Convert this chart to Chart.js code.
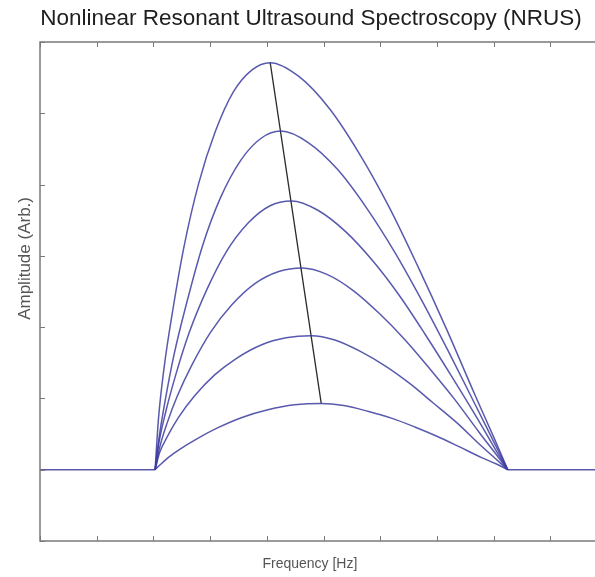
<!DOCTYPE html>
<html>
<head>
<meta charset="utf-8">
<script src="https://cdn.jsdelivr.net/npm/chart.js@4.4.0/dist/chart.umd.min.js"></script>
<style>
html, body { margin: 0; padding: 0; background: #fff; overflow: hidden; }
#wrap { width: 612px; height: 577px; }
</style>
</head>
<body>
<div id="wrap"><canvas id="nrusChart" width="612" height="577"></canvas></div>
<script>
// axis tick positions (no labels in the figure)
var xTicks = [0, 1, 2, 3, 4, 5, 6, 7, 8, 9, 10];
var yTicks = [-1, 0, 1, 2, 3, 4, 5, 6];

// resonance curves, highest drive first (frequency / amplitude, arb. units)
var freq1 = [2.03, 2.09, 2.19, 2.34, 2.54, 2.80, 3.09, 3.41, 3.74, 4.06, 4.56, 5.11, 5.65, 6.16, 6.66, 7.16, 7.66, 8.00, 8.25];
var amp1  = [0, 0.72, 1.44, 2.23, 3.13, 4.02, 4.74, 5.30, 5.61, 5.71, 5.52, 5.06, 4.41, 3.68, 2.86, 1.99, 1.07, 0.46, 0];

var freq2 = [2.03, 2.10, 2.21, 2.36, 2.59, 2.87, 3.18, 3.54, 3.90, 4.25, 4.73, 5.25, 5.77, 6.25, 6.73, 7.21, 7.69, 8.01, 8.25];
var amp2  = [0, 0.45, 0.98, 1.60, 2.35, 3.15, 3.81, 4.34, 4.65, 4.75, 4.59, 4.21, 3.66, 3.06, 2.38, 1.65, 0.89, 0.38, 0];

var freq3 = [2.03, 2.10, 2.22, 2.39, 2.63, 2.95, 3.28, 3.67, 4.05, 4.44, 4.90, 5.39, 5.89, 6.35, 6.80, 7.26, 7.72, 8.02, 8.25];
var amp3  = [0, 0.39, 0.82, 1.32, 1.92, 2.54, 3.05, 3.46, 3.70, 3.77, 3.64, 3.34, 2.91, 2.43, 1.89, 1.31, 0.71, 0.30, 0];

var freq4 = [2.03, 2.11, 2.24, 2.42, 2.68, 3.01, 3.38, 3.79, 4.21, 4.62, 5.06, 5.53, 6.00, 6.44, 6.87, 7.31, 7.74, 8.03, 8.25];
var amp4  = [0, 0.31, 0.65, 1.03, 1.47, 1.93, 2.31, 2.61, 2.78, 2.83, 2.74, 2.51, 2.18, 1.82, 1.42, 0.99, 0.53, 0.23, 0];

var freq5 = [2.03, 2.11, 2.25, 2.44, 2.72, 3.08, 3.46, 3.90, 4.34, 4.78, 5.20, 5.65, 6.10, 6.52, 6.93, 7.35, 7.76, 8.04, 8.25];
var amp5  = [0, 0.24, 0.47, 0.73, 1.03, 1.33, 1.56, 1.75, 1.85, 1.88, 1.82, 1.66, 1.45, 1.21, 0.94, 0.66, 0.35, 0.15, 0];

var freq6 = [2.03, 2.12, 2.26, 2.47, 2.76, 3.14, 3.55, 4.02, 4.49, 4.96, 5.36, 5.78, 6.21, 6.61, 7.00, 7.40, 7.79, 8.05, 8.25];
var amp6  = [0, 0.07, 0.17, 0.29, 0.43, 0.59, 0.73, 0.84, 0.91, 0.93, 0.90, 0.82, 0.72, 0.60, 0.47, 0.32, 0.17, 0.08, 0];

// line through the peaks
var peakFreq = [4.06, 4.96];
var peakAmp  = [5.71, 0.93];

// flat response outside the band
var baseFreq = [0, 2.03, null, 8.25, 10];
var baseAmp  = [0, 0, null, 0, 0];

function pts(xs, ys) {
  var out = [];
  for (var i = 0; i < xs.length; i++) {
    out.push({ x: xs[i], y: ys[i] });
  }
  return out;
}

var curveColor = "rgba(60,60,160,0.85)";

function curve(xs, ys) {
  return {
    data: pts(xs, ys),
    borderColor: curveColor,
    borderWidth: 1.5,
    pointRadius: 0,
    fill: false,
    cubicInterpolationMode: "monotone"
  };
}

// box round the plot with small inward ticks
var frameTicks = {
  id: "frameTicks",
  afterDraw: function(chart) {
    var ctx = chart.ctx, a = chart.chartArea;
    var xs = chart.scales.x, ys = chart.scales.y;
    ctx.save();
    ctx.strokeStyle = "#7a7a7a";
    ctx.lineWidth = 1.5;
    ctx.strokeRect(a.left, a.top, a.right - a.left, a.bottom - a.top);
    ctx.lineWidth = 1;
    ctx.beginPath();
    xTicks.forEach(function(v) {
      var px = Math.round(xs.getPixelForValue(v)) + 0.5;
      ctx.moveTo(px, a.bottom); ctx.lineTo(px, a.bottom - 5);
      ctx.moveTo(px, a.top); ctx.lineTo(px, a.top + 5);
    });
    yTicks.forEach(function(v) {
      var py = Math.round(ys.getPixelForValue(v)) + 0.5;
      ctx.moveTo(a.left, py); ctx.lineTo(a.left + 5, py);
      ctx.moveTo(a.right, py); ctx.lineTo(a.right - 5, py);
    });
    ctx.stroke();
    ctx.restore();
  }
};

Chart.defaults.font.family = "'Liberation Sans', Arial, sans-serif";

var ctx = document.getElementById("nrusChart");
var nrusChart = new Chart(ctx, {
  type: "line",
  data: {
    datasets: [
      {
        data: pts(baseFreq, baseAmp),
        borderColor: curveColor,
        borderWidth: 1.5,
        pointRadius: 0,
        spanGaps: false
      },
      curve(freq1, amp1),
      curve(freq2, amp2),
      curve(freq3, amp3),
      curve(freq4, amp4),
      curve(freq5, amp5),
      curve(freq6, amp6),
      {
        data: pts(peakFreq, peakAmp),
        borderColor: "#2b2b2b",
        borderWidth: 1.3,
        pointRadius: 0
      }
    ]
  },
  options: {
    responsive: false,
    animation: false,
    devicePixelRatio: 1,
    layout: { padding: { left: 15, right: 5, top: 0, bottom: 0 } },
    plugins: {
      legend: { display: false },
      tooltip: { enabled: false },
      title: {
        display: true,
        text: "Nonlinear Resonant Ultrasound Spectroscopy (NRUS)",
        color: "#1e1e1e",
        font: { size: 22.5, weight: "normal" },
        padding: { top: 5, bottom: 10 }
      }
    },
    scales: {
      x: {
        type: "linear",
        min: 0,
        max: 10,
        grid: { display: false },
        border: { display: false },
        ticks: { display: false },
        title: {
          display: true,
          // trailing blanks nudge the label left like the original
          text: "Frequency [Hz]       ",
          color: "#555",
          font: { size: 14 },
          padding: { top: 4, bottom: 4 }
        },
        afterFit: function(scale) { scale.height = 36; }
      },
      y: {
        min: -1,
        max: 6,
        grid: { display: false },
        border: { display: false },
        ticks: { display: false },
        title: {
          display: true,
          // leading blanks lift the label like the original
          text: "              Amplitude (Arb.)",
          color: "#555",
          font: { size: 17 },
          padding: { top: 0, bottom: 0 }
        },
        afterFit: function(scale) { scale.width = 25; }
      }
    }
  },
  plugins: [frameTicks]
});
</script>
</body>
</html>
